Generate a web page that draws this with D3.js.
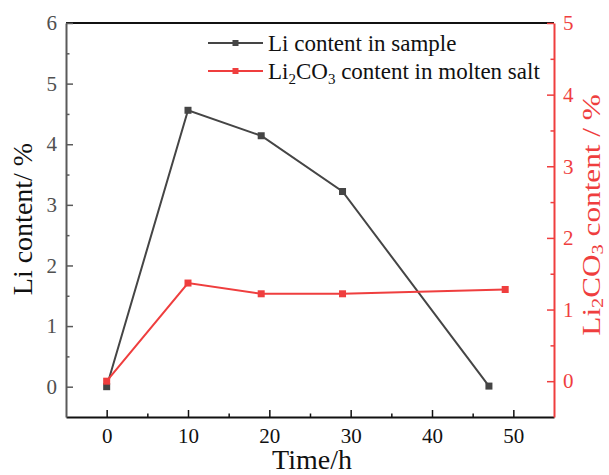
<!DOCTYPE html>
<html>
<head>
<meta charset="utf-8">
<script src="https://cdn.jsdelivr.net/npm/d3@7"></script>
<style>
  body { margin: 0; background: #fff; }
  svg text { font-family: "Liberation Serif", "Times New Roman", serif !important; }
</style>
</head>
<body>
<div id="chart"></div>
<script>
// Data
const timeLi = [0, 10, 19, 29, 47];
const liContent = [0, 4.56, 4.14, 3.22, 0.01];
const timeSalt = [0, 10, 19, 29, 49];
const saltContent = [0, 1.37, 1.22, 1.22, 1.28];
const xTicks = [0, 10, 20, 30, 40, 50];
const yLeftTicks = [0, 1, 2, 3, 4, 5, 6];
const yRightTicks = [0, 1, 2, 3, 4, 5];

const W = 609, H = 475;
const plot = { left: 66, right: 554, top: 23, bottom: 417 };
const dark = "#454545", red = "#ef3e3e", axisGray = "#5a5a5a";
const serif = '"Liberation Serif", "Times New Roman", serif';

const svg = d3.select("#chart").append("svg")
  .attr("width", W).attr("height", H);

const x = d3.scaleLinear().domain([-5, 55]).range([plot.left, plot.right]);
const yL = d3.scaleLinear().domain([-0.5, 6]).range([plot.bottom, plot.top]);
const yR = d3.scaleLinear().domain([-0.5, 5]).range([plot.bottom, plot.top]);

// top frame line
svg.append("line")
  .attr("x1", plot.left).attr("x2", plot.right).attr("y1", plot.top).attr("y2", plot.top)
  .attr("stroke", "#111").attr("stroke-width", 2);

function styleAxis(g, color, labelColor, size) {
  g.attr("font-family", serif).attr("font-size", size);
  g.selectAll(".domain").attr("stroke", color).attr("stroke-width", 2);
  g.selectAll(".tick line").attr("stroke", color).attr("stroke-width", 1.5);
  g.selectAll(".tick text").attr("fill", labelColor);
}

// minor ticks
const minorX = [5, 15, 25, 35, 45];
svg.append("g").attr("transform", `translate(0,${plot.bottom})`)
  .call(d3.axisBottom(x).tickValues(minorX).tickSize(-3.5).tickFormat(""))
  .call(g => { g.select(".domain").remove(); g.selectAll("line").attr("stroke", "#111").attr("stroke-width", 1.5); });
svg.append("g").attr("transform", `translate(${plot.left},0)`)
  .call(d3.axisLeft(yL).tickValues([0.5, 1.5, 2.5, 3.5, 4.5, 5.5]).tickSize(-3.5).tickFormat(""))
  .call(g => { g.select(".domain").remove(); g.selectAll("line").attr("stroke", axisGray).attr("stroke-width", 1.5); });
svg.append("g").attr("transform", `translate(${plot.right},0)`)
  .call(d3.axisRight(yR).tickValues([0.5, 1.5, 2.5, 3.5, 4.5]).tickSize(-3.5).tickFormat(""))
  .call(g => { g.select(".domain").remove(); g.selectAll("line").attr("stroke", red).attr("stroke-width", 1.5); });

// main axes
const fmt = d3.format("d");
svg.append("g").attr("transform", `translate(0,${plot.bottom})`)
  .call(d3.axisBottom(x).tickValues(xTicks).tickFormat(fmt).tickSize(-7).tickSizeOuter(0).tickPadding(11))
  .call(g => styleAxis(g, "#111", "#111", 21));
svg.append("g").attr("transform", `translate(${plot.left},0)`)
  .call(d3.axisLeft(yL).tickValues(yLeftTicks).tickFormat(fmt).tickSize(-7).tickSizeOuter(0).tickPadding(9))
  .call(g => styleAxis(g, axisGray, "#505050", 21));
svg.append("g").attr("transform", `translate(${plot.right},0)`)
  .call(d3.axisRight(yR).tickValues(yRightTicks).tickFormat(fmt).tickSize(-7).tickSizeOuter(0).tickPadding(9))
  .call(g => styleAxis(g, red, red, 21));

// series
function drawSeries(xs, ys, yScale, color) {
  const pts = xs.map((t, i) => [t, ys[i]]);
  svg.append("path").datum(pts)
    .attr("fill", "none").attr("stroke", color).attr("stroke-width", 2)
    .attr("d", d3.line().x(d => x(d[0])).y(d => yScale(d[1])));
  svg.selectAll(null).data(pts).enter().append("rect")
    .attr("x", d => x(d[0]) - 3.5).attr("y", d => yScale(d[1]) - 3.5)
    .attr("width", 7).attr("height", 7).attr("fill", color);
}
drawSeries(timeLi, liContent, yL, dark);
drawSeries(timeSalt, saltContent, yR, red);

// axis titles
svg.append("text")
  .attr("x", 312).attr("y", 469)
  .attr("text-anchor", "middle").attr("font-size", 28).attr("fill", "#111")
  .text("Time/h");

svg.append("text")
  .attr("transform", `translate(32,219) rotate(-90)`)
  .attr("text-anchor", "middle").attr("font-size", 28).attr("fill", "#111")
  .text("Li content/ %");

const rt = svg.append("text")
  .attr("transform", `translate(600,215) rotate(-90) scale(1.2,1)`)
  .attr("text-anchor", "middle").attr("font-size", 26).attr("fill", red);
rt.append("tspan").text("Li");
rt.append("tspan").text("2").attr("font-size", 17).attr("dy", 3);
rt.append("tspan").text("CO").attr("dy", -3);
rt.append("tspan").text("3").attr("font-size", 17).attr("dy", 3);
rt.append("tspan").text(" content / %").attr("dy", -3);

// legend
const legend = [
  { label: "Li content in sample", color: dark, y: 43 },
  { label: null, color: red, y: 71 }
];
legend.forEach(l => {
  svg.append("line").attr("x1", 208).attr("x2", 263).attr("y1", l.y).attr("y2", l.y)
    .attr("stroke", l.color).attr("stroke-width", 2);
  svg.append("rect").attr("x", 235.5 - 3).attr("y", l.y - 3)
    .attr("width", 6).attr("height", 6).attr("fill", l.color);
  const t = svg.append("text").attr("x", 268).attr("y", l.y + 8)
    .attr("font-size", 23).attr("fill", "#111");
  if (l.label) t.text(l.label);
  else {
    t.append("tspan").text("Li");
    t.append("tspan").text("2").attr("font-size", 15).attr("dy", 5);
    t.append("tspan").text("CO").attr("dy", -5);
    t.append("tspan").text("3").attr("font-size", 15).attr("dy", 5);
    t.append("tspan").text(" content in molten salt").attr("dy", -5);
  }
});
</script>
</body>
</html>
